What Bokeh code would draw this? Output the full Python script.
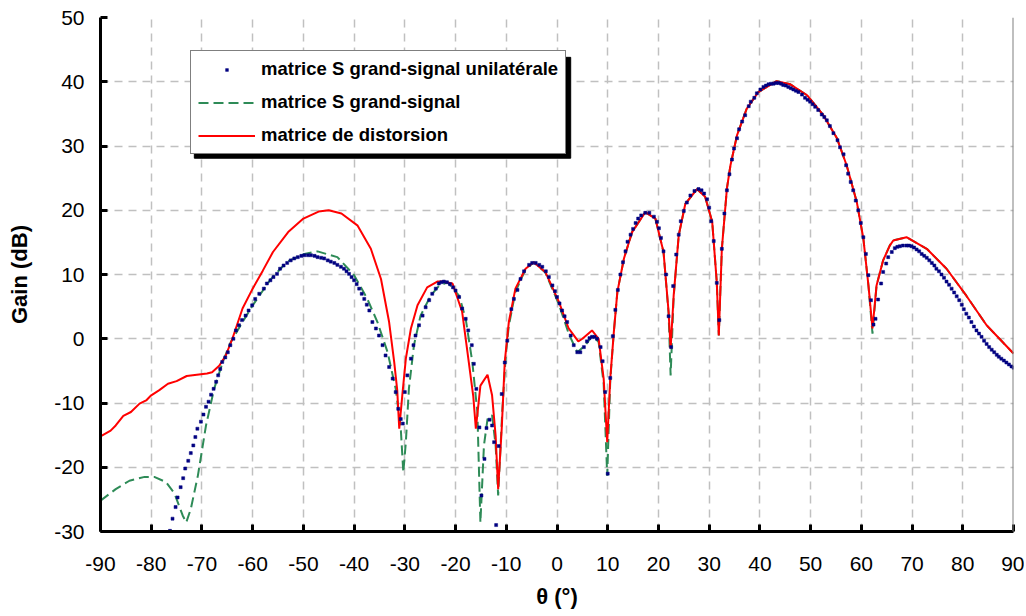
from bokeh.plotting import figure
from bokeh.models import Range1d, FixedTicker, Legend, LegendItem, Span
from bokeh.embed import file_html
from bokeh.resources import INLINE

# ---------------- data ----------------
x_ticks = [-90, -80, -70, -60, -50, -40, -30, -20, -10, 0, 10, 20, 30, 40, 50, 60, 70, 80, 90]
y_ticks = [-30, -20, -10, 0, 10, 20, 30, 40, 50]

label_dots = "matrice S grand-signal unilatérale"
label_green = "matrice S grand-signal"
label_red = "matrice de distorsion"

theta_red = [-90, -88, -87, -85.5, -84, -82.3, -81, -80, -78.4, -76.7,
             -75, -73, -71, -69, -68, -66.6, -65.3, -64, -62, -60,
             -58, -56, -53, -50, -47, -45, -42.5, -39.3, -36.7, -34.7,
             -33.1, -32.1, -31.5, -31.1, -30.5, -29.8, -28.8, -27.5, -25.6, -23.6,
             -22.6, -20.6, -18.7, -17.4, -16.5, -16.0, -15.1, -13.7, -12.8, -12.1,
             -11.6, -10.9, -10.3, -9.5, -8.2, -6.2, -4.6, -2.3, 0.4, 2.3,
             4.2, 5.0, 6.9, 8.2, 9.2, 9.9, 10.5, 11.2, 11.9, 13.2,
             14.8, 17.4, 19.4, 21.0, 22.0, 22.4, 23.0, 24.0, 25.3, 27.6,
             29.2, 30.6, 31.5, 31.9, 32.5, 33.5, 34.2, 35.5, 37.4, 39.7,
             43.3, 46.0, 49.3, 52.5, 55.2, 57.1, 59.1, 60.4, 61.4, 62.2,
             63.0, 64.3, 65.6, 66.3, 68.9, 72.9, 76.8, 80.7, 84.7, 90]
gain_red = [-15.2, -14.3, -13.5, -12.0, -11.4, -10.1, -9.6, -8.8, -8.0, -7.0,
            -6.6, -5.8, -5.6, -5.4, -5.2, -4.2, -2.6, 0.0, 4.7, 7.8,
            10.6, 13.5, 16.6, 18.7, 19.8, 20.0, 19.5, 17.6, 14.0, 9.3,
            2.6, -3.6, -8.0, -14.0, -8.8, -3.1, 1.6, 5.2, 8.0, 8.9,
            8.9, 8.6, 4.2, -3.6, -9.0, -14.0, -7.3, -5.6, -8.8, -15.1,
            -23.4, -14.0, -3.6, 2.6, 7.8, 10.9, 11.9, 10.4, 5.7, 1.6,
            -0.4, 0.0, 1.3, 0.0, -6.2, -16.1, -6.2, 1.0, 7.3, 12.5,
            16.6, 19.7, 18.7, 13.5, 4.2, -1.5, 6.7, 16.1, 21.0, 23.3,
            22.1, 18.2, 8.8, 0.5, 14.0, 23.4, 27.0, 31.7, 35.8, 38.4,
            40.1, 39.6, 37.9, 34.8, 31.2, 27.0, 21.3, 15.6, 8.3, 1.6,
            8.3, 12.2, 14.5, 15.3, 15.8, 14.0, 10.9, 6.7, 2.1, -2.3]

theta_green = [-90, -87, -84.3, -81.3, -79.4, -77.1, -75.4, -73.8, -73.1, -72.2,
               -70.8, -69.2, -67.6, -65.9, -64.3, -62.6, -60, -56.5, -53.2, -49.8,
               -47.2, -43.3, -40.0, -37.4, -35.4, -33.4, -31.8, -30.8, -30.3, -29.8,
               -29.2, -28.2, -26.9, -24.9, -23.3, -21.6, -19.3, -18.0, -16.7, -15.7,
               -15.1, -14.4, -13.7, -12.8, -12.1, -11.6, -10.8, -10.1, -9.5, -8.2,
               -6.2, -4.6, -2.3, 0.4, 2.3, 4.0, 5.6, 7.0, 8.2, 9.2,
               9.9, 10.5, 11.2, 11.9, 13.2, 14.8, 17.4, 19.4, 21.0, 22.0,
               22.4, 23.0, 24.0, 25.3, 27.6, 29.2, 30.6, 31.5, 31.9, 32.5,
               33.5, 34.2, 35.5, 37.4, 39.7, 43.3, 46.0, 49.3, 52.5, 55.2,
               57.1, 59.1, 60.4, 61.4, 62.2, 63.0, 64.3, 65.6, 66.3, 68.9,
               72.9, 76.8, 80.7, 84.7, 90]
gain_green = [-25.2, -23.4, -22.1, -21.5, -21.5, -22.3, -24.1, -27.5, -28.6, -26.5,
              -21.3, -13.5, -7.8, -3.6, -0.5, 1.8, 5.2, 9.2, 12.0, 13.2,
              13.6, 12.7, 9.9, 6.2, 2.6, -2.1, -7.8, -14.0, -20.8, -16.1,
              -7.8, -1.0, 3.6, 6.7, 8.2, 8.8, 6.7, 3.1, -3.6, -11.4,
              -28.6, -16.6, -12.5, -11.9, -16.6, -24.4, -11.4, -2.6, 2.0, 7.3,
              10.8, 11.9, 10.3, 5.3, 0.8, -2.1, -1.0, 0.5, -0.5, -7.0,
              -21.3, -6.5, 1.0, 7.3, 12.5, 16.6, 19.7, 18.7, 13.5, 4.0,
              -5.7, 6.5, 16.1, 21.0, 23.3, 22.1, 18.2, 8.8, 0.5, 14.0,
              23.4, 27.0, 31.7, 35.8, 38.4, 40.1, 39.6, 37.9, 34.8, 31.2,
              27.0, 21.3, 15.6, 8.3, 0.8, 8.3, 12.2, 14.5, 15.3, 15.8,
              14.0, 10.9, 6.7, 2.1, -2.3]

theta_dots = [-76.3, -75.8, -75.2, -74.8, -74.2, -73.7, -73.3, -72.7, -72.2, -71.7,
              -71.3, -70.9, -70.2, -69.7, -69.2, -68.7, -68.2, -67.7, -67.2, -66.8,
              -66.4, -66.0, -65.4, -64.9, -64.4, -63.8, -63.3, -62.7, -62.1, -61.4,
              -60.8, -60.1, -59.5, -58.7, -57.8, -57.2, -56.5, -55.9, -55.2, -54.6,
              -53.9, -53.2, -52.5, -51.8, -51.1, -50.4, -49.8, -49.1, -48.5, -47.8,
              -47.2, -46.5, -45.9, -45.2, -44.6, -43.9, -43.3, -42.6, -42.0, -41.5,
              -41.0, -40.5, -40.0, -39.5, -39.0, -38.5, -38.0, -37.5, -37.0, -36.4,
              -35.7, -35.1, -34.4, -33.8, -33.1, -32.4, -31.8, -31.3, -30.8, -30.4,
              -30.0, -29.5, -28.8, -28.3, -27.9, -27.2, -26.5, -25.9, -25.2, -24.6,
              -23.9, -23.3, -22.8, -22.3, -21.7, -21.1, -20.5, -20.0, -19.3, -18.7,
              -18.0, -17.5, -16.8, -16.4, -15.9, -15.3, -14.9, -14.3, -13.9, -13.3,
              -12.8, -12.4, -12.0, -11.5, -10.9, -10.3, -9.8, -9.0, -8.5, -7.8,
              -7.2, -6.5, -5.5, -4.9, -4.2, -3.5, -2.9, -2.2, -1.6, -0.9,
              -0.4, 0.0, 0.5, 1.0, 1.5, 2.0, 2.7, 3.3, 4.0, 4.6,
              5.3, 5.9, 6.4, 6.9, 7.4, 7.9, 8.6, 9.0, 9.5, 10.0,
              10.5, 11.0, 11.5, 12.0, 12.5, 13.0, 13.5, 13.9, 14.5, 15.0,
              15.5, 16.0, 16.6, 17.4, 18.2, 19.1, 19.7, 20.1, 20.5, 21.0,
              21.5, 22.0, 22.5, 22.9, 23.5, 24.0, 24.4, 25.0, 25.6, 26.3,
              27.1, 27.9, 28.5, 29.0, 29.6, 30.0, 30.4, 30.9, 31.5, 32.0,
              32.5, 33.0, 33.5, 34.0, 34.5, 34.9, 35.5, 35.9, 36.5, 37.1,
              37.8, 38.2, 38.9, 39.4, 40.1, 40.7, 41.2, 41.7, 42.2, 42.7,
              43.2, 43.7, 44.2, 44.6, 45.1, 45.6, 46.1, 46.6, 47.1, 47.6,
              48.3, 48.9, 49.4, 49.9, 50.4, 50.9, 51.5, 52.2, 52.7, 53.2,
              53.8, 54.5, 55.3, 55.8, 56.5, 57.0, 57.4, 57.9, 58.4, 58.9,
              59.4, 59.9, 60.4, 60.9, 61.4, 61.9, 62.4, 62.8, 63.3, 63.9,
              64.3, 64.9, 65.3, 66.0, 66.6, 67.1, 67.6, 68.2, 68.9, 69.4,
              69.9, 70.4, 70.9, 71.4, 71.9, 72.4, 72.9, 73.4, 73.9, 74.4,
              74.8, 75.3, 75.8, 76.3, 76.8, 77.3, 77.8, 78.3, 78.8, 79.3,
              79.8, 80.2, 80.7, 81.2, 81.7, 82.2, 82.7, 83.2, 83.7, 84.2,
              84.7, 85.2, 85.7, 86.2, 86.7, 87.1, 87.6, 88.1, 88.6, 89.1,
              89.6, 90.0]
gain_dots = [-29.9, -28.0, -26.2, -24.7, -23.1, -21.7, -20.2, -19.0, -17.8, -16.6,
             -15.3, -14.0, -12.9, -11.8, -10.6, -9.8, -8.7, -7.8, -6.7, -5.7,
             -4.7, -3.6, -2.9, -2.1, -1.0, 0.0, 1.3, 2.1, 2.9, 3.6,
             4.4, 5.2, 6.2, 7.0, 7.8, 8.6, 9.1, 9.6, 10.1, 10.9,
             11.4, 11.8, 12.2, 12.5, 12.7, 12.9, 13.0, 13.0, 13.0, 12.9,
             12.7, 12.6, 12.5, 12.2, 12.0, 11.8, 11.5, 11.2, 10.9, 10.5,
             10.1, 9.6, 9.1, 8.5, 7.8, 7.0, 6.2, 5.3, 4.4, 2.6,
             1.6, 0.5, -1.0, -2.6, -4.4, -6.2, -8.3, -10.9, -12.5, -13.2,
             -8.3, -5.7, -3.1, -1.0, 0.5, 2.1, 3.6, 4.9, 6.0, 7.0,
             7.8, 8.6, 8.8, 8.9, 8.8, 8.5, 8.0, 7.5, 6.5, 4.7,
             3.1, 1.3, -1.0, -3.9, -7.8, -13.8, -24.4, -18.7, -13.9, -12.6,
             -13.5, -16.1, -29.0, -16.7, -8.6, -3.7, -0.3, 4.6, 6.2, 7.6,
             9.3, 10.5, 11.5, 11.8, 11.8, 11.5, 11.2, 10.5, 9.6, 8.3,
             7.4, 6.5, 5.5, 4.4, 3.5, 2.6, 0.5, -1.0, -2.1, -2.1,
             -1.3, -0.4, 0.1, 0.3, 0.3, 0.0, -1.3, -3.5, -8.3, -21.0,
             -6.1, 0.4, 4.5, 7.6, 10.0, 11.9, 13.6, 15.1, 16.2, 17.1,
             18.0, 18.7, 19.2, 19.6, 19.6, 19.0, 18.2, 17.2, 15.7, 13.6,
             10.0, 3.5, -1.3, 8.2, 13.1, 16.2, 18.3, 19.9, 21.2, 22.3,
             23.0, 23.3, 23.1, 22.6, 21.7, 20.4, 18.3, 15.2, 8.7, 2.9,
             14.0, 19.5, 23.1, 25.6, 27.9, 29.6, 31.2, 32.6, 33.8, 34.8,
             36.2, 36.9, 37.5, 38.2, 38.8, 39.2, 39.4, 39.6, 39.7, 39.7,
             39.8, 39.8, 39.7, 39.5, 39.4, 39.2, 39.0, 38.8, 38.6, 38.4,
             38.0, 37.5, 37.2, 36.9, 36.5, 36.1, 35.6, 34.9, 34.5, 34.0,
             33.1, 32.0, 30.9, 29.8, 28.7, 27.0, 25.7, 24.4, 23.1, 21.5,
             20.0, 18.0, 15.8, 13.2, 9.9, 6.0, 2.2, 3.1, 6.1, 8.6,
             10.4, 11.7, 12.7, 13.5, 14.1, 14.3, 14.4, 14.5, 14.5, 14.5,
             14.4, 14.2, 13.9, 13.6, 13.2, 12.9, 12.6, 12.2, 11.8, 11.4,
             10.9, 10.5, 10.0, 9.5, 8.9, 8.4, 7.8, 7.2, 6.6, 6.0,
             5.3, 4.6, 3.9, 3.3, 2.6, 1.9, 1.3, 0.8, 0.3, -0.3,
             -0.8, -1.3, -1.7, -2.1, -2.5, -2.8, -3.1, -3.4, -3.7, -4.0,
             -4.3, -4.5]

assert len(theta_red) == len(gain_red), (len(theta_red), len(gain_red))
assert len(theta_green) == len(gain_green), (len(theta_green), len(gain_green))
assert len(theta_dots) == len(gain_dots), (len(theta_dots), len(gain_dots))

FONT = "Liberation Sans"
NAVY = "#000080"

p = figure(width=1024, height=614, output_backend="svg", toolbar_location=None,
           x_range=Range1d(-90, 90), y_range=Range1d(-30, 50),
           min_border_left=100, min_border_right=11, min_border_top=17, min_border_bottom=83,
           background_fill_color="white", border_fill_color="white")
p.outline_line_color = None

# grid
for g in (p.xgrid, p.ygrid):
    g.grid_line_color = "#c0c0c0"
    g.grid_line_dash = "8 6"
    g.grid_line_width = 1.5
p.xgrid.ticker = FixedTicker(ticks=x_ticks)
p.ygrid.ticker = FixedTicker(ticks=y_ticks)

# axes
p.xaxis.ticker = FixedTicker(ticks=x_ticks)
p.yaxis.ticker = FixedTicker(ticks=y_ticks)
p.xaxis.major_label_overrides = {t: str(t) for t in x_ticks}
p.yaxis.major_label_overrides = {t: str(t) for t in y_ticks}
for ax in (p.xaxis[0], p.yaxis[0]):
    ax.axis_line_width = 3
    ax.axis_line_color = "black"
    ax.major_tick_line_width = 3
    ax.major_tick_line_color = "black"
    ax.major_tick_in = 7
    ax.major_tick_out = 0
    ax.minor_tick_line_color = None
    ax.major_label_text_font = FONT
    ax.major_label_text_font_size = "21px"
    ax.major_label_text_color = "black"
    ax.axis_label_text_font = FONT
    ax.axis_label_text_font_size = "22px"
    ax.axis_label_text_font_style = "bold"
    ax.axis_label_text_color = "black"
p.xaxis.major_label_standoff = 25
p.yaxis.major_label_standoff = 16
p.xaxis.axis_label = "θ (°)"
p.yaxis.axis_label = "Gain (dB)"
p.xaxis.axis_label_standoff = 10
p.yaxis.axis_label_standoff = 19

# right border of the plot area
p.add_layout(Span(location=90, dimension="height", line_color="#808080", line_width=2))

# legend shadow (drawn beneath the legend box)
p.quad(left=-71.5, right=2.7, top=43.8, bottom=28.1, fill_color="black", line_color="black")

r_green = p.line(theta_green, gain_green, line_color="#2e8b57", line_width=2, line_dash="10 5")
r_red = p.line(theta_red, gain_red, line_color="#ff0000", line_width=2)
r_dots = p.scatter(theta_dots, gain_dots, marker="square", size=3,
                   fill_color=NAVY, line_color=NAVY, line_width=0.5)

legend = Legend(items=[LegendItem(label=label_dots, renderers=[r_dots]),
                       LegendItem(label=label_green, renderers=[r_green]),
                       LegendItem(label=label_red, renderers=[r_red])],
                location=(90, 377))
legend.border_line_color = "black"
legend.border_line_width = 1
legend.background_fill_color = "white"
legend.background_fill_alpha = 1.0
legend.padding = 7
legend.margin = 0
legend.spacing = 11
legend.label_height = 20
legend.glyph_height = 7      # keeps the marker key as small as the plotted dots
legend.glyph_width = 57
legend.label_standoff = 6
legend.label_text_font = FONT
legend.label_text_font_size = "18.5px"
legend.label_text_font_style = "bold"
legend.label_text_color = "black"
p.add_layout(legend)

open("out.html", "w").write(file_html(p, INLINE))
